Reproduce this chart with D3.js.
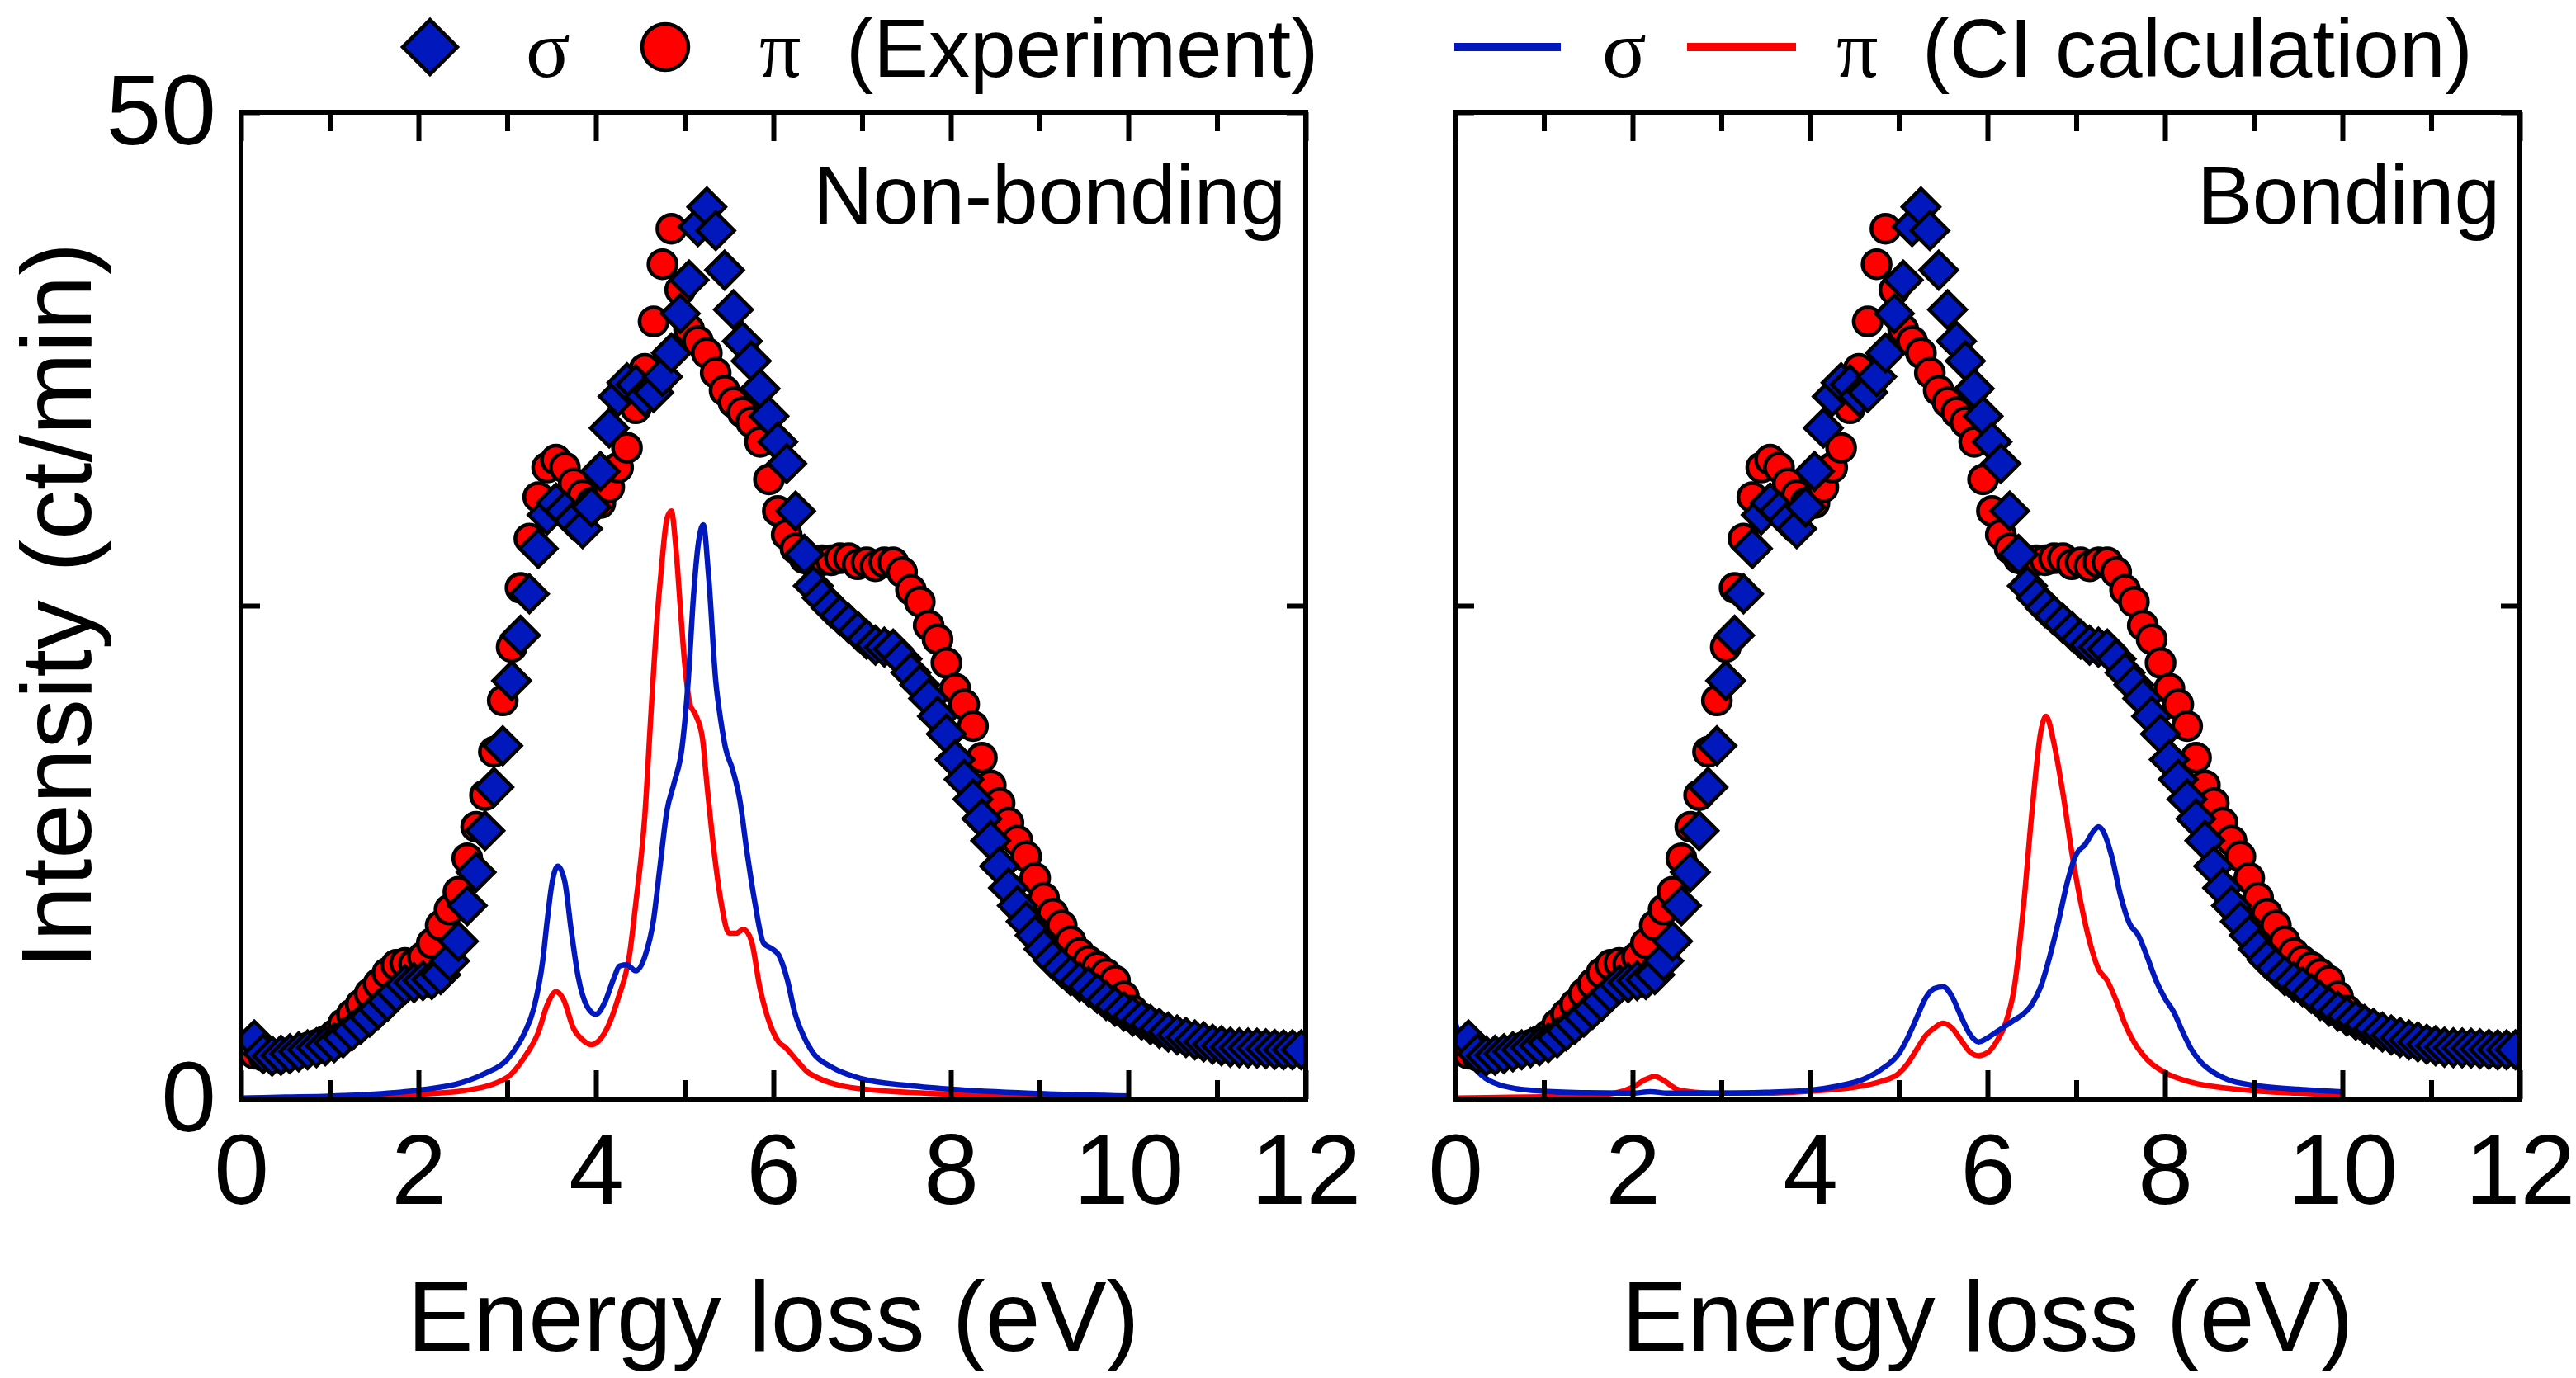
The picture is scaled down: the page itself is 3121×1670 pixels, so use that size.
<!DOCTYPE html>
<html>
<head>
<meta charset="utf-8">
<script src="https://cdn.jsdelivr.net/npm/d3@7"></script>
<style>
    body { margin: 0; background: #fff; }
    text { font-family: "Liberation Sans", Arial, sans-serif; fill: #000; }
</style>
</head>
<body>
<div id="chart"></div>
<script>
// experiment: energy loss (eV) and intensity (ct/min), same energies for both polarisations
const expEnergy = [
    0.15, 0.25, 0.35, 0.45, 0.55, 0.65, 0.75, 0.85, 0.95,
    1.05, 1.15, 1.25, 1.35, 1.45, 1.55, 1.65, 1.75, 1.85, 1.95,
    2.05, 2.15, 2.25, 2.35, 2.45, 2.55, 2.65, 2.75, 2.85, 2.95,
    3.05, 3.15, 3.25, 3.35, 3.45, 3.55, 3.65, 3.75, 3.85, 3.95,
    4.05, 4.15, 4.25, 4.35, 4.45, 4.55, 4.65, 4.75, 4.85, 4.95,
    5.05, 5.15, 5.25, 5.35, 5.45, 5.55, 5.65, 5.75, 5.85, 5.95,
    6.05, 6.15, 6.25, 6.35, 6.45, 6.55, 6.65, 6.75, 6.85, 6.95,
    7.05, 7.15, 7.25, 7.35, 7.45, 7.55, 7.65, 7.75, 7.85, 7.95,
    8.05, 8.15, 8.25, 8.35, 8.45, 8.55, 8.65, 8.75, 8.85, 8.95,
    9.05, 9.15, 9.25, 9.35, 9.45, 9.55, 9.65, 9.75, 9.85, 9.95,
    10.05, 10.15, 10.25, 10.35, 10.45, 10.55, 10.65, 10.75, 10.85, 10.95,
    11.05, 11.15, 11.25, 11.35, 11.45, 11.55, 11.65, 11.75, 11.85, 11.95
];
const expSigma = [
    3.0, 2.3, 2.18, 2.22, 2.3, 2.4, 2.5, 2.6, 2.7,
    2.85, 3.1, 3.45, 3.8, 4.15, 4.55, 4.95, 5.4, 5.8, 5.9,
    6.0, 6.05, 6.3, 7.0, 8.0, 9.8, 11.5, 13.6, 15.8, 17.9,
    21.2, 23.5, 25.6, 27.9, 29.6, 30.2, 29.8, 29.3, 28.9, 30.0,
    31.8, 34.0, 35.6, 36.3, 36.2, 35.6, 35.8, 36.6, 37.8, 39.8,
    41.5, 44.2, 45.2, 44.0, 42.0, 40.0, 38.4, 37.4, 36.0, 34.6,
    33.3, 32.2, 29.8, 27.6, 26.0, 25.4, 24.9, 24.5, 24.1, 23.7,
    23.3, 23.0, 22.9, 22.8, 22.3, 21.6, 21.0, 20.3, 19.4, 18.5,
    17.2, 16.2, 15.2, 14.2, 13.1, 11.8, 10.7, 9.8, 9.0, 8.3,
    7.6, 7.05, 6.65, 6.25, 5.95, 5.7, 5.35, 5.0, 4.7, 4.45,
    4.2, 4.0, 3.78, 3.58, 3.4, 3.25, 3.12, 3.0, 2.9, 2.78,
    2.7, 2.63, 2.6, 2.59, 2.58, 2.55, 2.52, 2.5, 2.5, 2.5
];
const expPi = [
    2.3, 2.2, 2.2, 2.25, 2.35, 2.45, 2.6, 2.75, 2.95,
    3.25, 3.8, 4.3, 4.8, 5.35, 5.85, 6.4, 6.8, 6.9, 6.85,
    7.2, 7.9, 8.8, 9.6, 10.5, 12.2, 13.8, 15.4, 17.6, 20.2,
    22.9, 25.9, 28.4, 30.5, 32.0, 32.4, 32.0, 31.2, 30.6, 30.2,
    30.2, 31.0, 32.0, 33.0, 35.0, 37.0, 39.4, 42.3, 44.1, 41.0,
    39.0, 38.4, 37.8, 36.8, 35.9, 35.3, 34.8, 34.3, 33.3, 31.4,
    29.8, 28.6, 27.9, 27.4, 27.2, 27.3, 27.3, 27.4, 27.4, 27.1,
    27.2, 27.0, 27.2, 27.2, 26.7, 25.8, 25.2, 24.0, 23.3, 22.1,
    20.8, 20.0, 18.9, 17.3, 15.9, 15.0, 14.0, 13.1, 12.3, 11.2,
    10.2, 9.4, 8.8, 8.0, 7.4, 7.0, 6.7, 6.35, 6.0, 5.2,
    4.5, 4.1, 3.8, 3.6, 3.4, 3.25, 3.1, 3.0, 2.88, 2.78,
    2.7, 2.63, 2.58, 2.56, 2.55, 2.52, 2.5, 2.48, 2.48, 2.48
];

// CI calculation, [energy, intensity]
const nbCalcSigma = [
    [0, 0.05], [0.5, 0.1], [1, 0.15], [1.5, 0.25], [2, 0.45], [2.5, 0.85], [2.75, 1.3],
    [3, 2.0], [3.1, 2.6], [3.2, 3.4], [3.3, 4.6], [3.4, 7.0], [3.45, 9.0], [3.5, 10.8],
    [3.57, 11.8], [3.65, 11.0], [3.72, 8.6], [3.8, 6.2], [3.9, 4.7], [4.0, 4.3], [4.1, 4.9],
    [4.2, 6.1], [4.27, 6.75], [4.35, 6.8], [4.45, 6.5], [4.55, 7.2], [4.65, 9.1], [4.72, 11.7],
    [4.8, 14.6], [4.88, 16.0], [4.97, 17.8], [5.04, 21.2], [5.1, 25.5], [5.15, 28.0],
    [5.21, 29.1], [5.27, 26.5], [5.35, 21.2], [5.41, 19.1], [5.46, 17.8], [5.54, 16.7],
    [5.62, 15.2], [5.7, 12.6], [5.79, 10.0], [5.89, 7.9], [5.99, 7.6], [6.06, 7.3],
    [6.16, 6.0], [6.24, 4.4], [6.34, 3.2], [6.45, 2.33], [6.65, 1.64], [7, 1.03],
    [7.5, 0.7], [8, 0.5], [9, 0.28], [10, 0.16]
];
const nbCalcPi = [
    [0, 0.03], [0.5, 0.05], [1, 0.08], [1.5, 0.12], [2, 0.25], [2.5, 0.42], [3, 1.1],
    [3.2, 2.16], [3.35, 3.37], [3.45, 4.76], [3.55, 5.45], [3.63, 5.1], [3.75, 3.55],
    [3.85, 3.0], [3.95, 2.76], [4.1, 3.37], [4.25, 5.1], [4.38, 7.36], [4.45, 9.95],
    [4.55, 14.3], [4.62, 19.5], [4.68, 23.8], [4.74, 27.0], [4.8, 29.4], [4.85, 29.8],
    [4.9, 28.0], [4.95, 25.0], [5.0, 22.1], [5.06, 20.0], [5.12, 19.5], [5.2, 18.3],
    [5.25, 16.0], [5.33, 12.6], [5.41, 10.0], [5.5, 8.4], [5.58, 8.4], [5.66, 8.6],
    [5.75, 8.05], [5.85, 5.6], [5.97, 3.7], [6.06, 2.9], [6.14, 2.6], [6.26, 1.98],
    [6.41, 1.29], [7, 0.51], [8, 0.25], [9, 0.13], [10, 0.06]
];
const bCalcSigma = [
    [0, 3.9], [0.1, 2.6], [0.2, 1.7], [0.3, 1.2], [0.4, 0.9], [0.5, 0.72], [0.7, 0.52],
    [1, 0.4], [1.5, 0.32], [2, 0.3], [2.2, 0.38], [2.4, 0.3], [3, 0.3], [3.5, 0.34],
    [4, 0.45], [4.3, 0.65], [4.6, 1.0], [4.8, 1.5], [5.0, 2.3], [5.1, 3.1], [5.2, 4.1],
    [5.3, 5.1], [5.4, 5.6], [5.5, 5.7], [5.6, 5.2], [5.7, 4.2], [5.8, 3.3], [5.9, 2.9],
    [6.0, 3.1], [6.1, 3.4], [6.2, 3.7], [6.3, 4.0], [6.4, 4.3], [6.5, 4.8], [6.6, 5.7],
    [6.7, 7.2], [6.8, 9.0], [6.9, 11.0], [7.0, 12.4], [7.1, 12.9], [7.2, 13.6], [7.25, 13.8],
    [7.3, 13.6], [7.4, 12.3], [7.5, 10.3], [7.6, 8.9], [7.7, 8.3], [7.8, 7.2], [7.9, 6.0],
    [8.0, 5.1], [8.1, 4.4], [8.2, 3.4], [8.3, 2.5], [8.4, 1.9], [8.5, 1.5], [8.7, 1.0],
    [9, 0.7], [9.5, 0.5], [10, 0.37]
];
const bCalcPi = [
    [0, 0.05], [0.5, 0.08], [1, 0.12], [1.5, 0.18], [1.8, 0.3], [2.0, 0.6], [2.15, 1.0],
    [2.25, 1.15], [2.35, 0.95], [2.5, 0.5], [2.7, 0.35], [3, 0.3], [3.5, 0.3], [4, 0.4],
    [4.5, 0.6], [4.8, 0.9], [5.0, 1.3], [5.1, 1.8], [5.2, 2.5], [5.3, 3.2], [5.4, 3.6],
    [5.5, 3.85], [5.6, 3.6], [5.7, 3.0], [5.8, 2.4], [5.9, 2.2], [6.0, 2.35], [6.1, 2.9],
    [6.2, 3.8], [6.3, 5.6], [6.4, 9.5], [6.5, 14.5], [6.6, 18.6], [6.66, 19.4], [6.75, 18.0],
    [6.85, 15.5], [6.95, 12.5], [7.05, 10.0], [7.15, 8.0], [7.25, 6.6], [7.35, 6.0],
    [7.45, 5.0], [7.55, 3.8], [7.65, 2.9], [7.8, 2.0], [8.0, 1.35], [8.3, 0.85], [8.7, 0.55],
    [9, 0.42], [9.5, 0.3], [10, 0.2]
];

const xMajorTicks = [0, 2, 4, 6, 8, 10, 12];
const xMinorTicks = [1, 3, 5, 7, 9, 11];
const yTicks = [0, 25, 50];
const yTickLabels = { 0: '0', 50: '50' };
const panelLabels = ['Non-bonding', 'Bonding'];

const BLUE = '#0018bc';
const RED = '#ff0000';
const FONT = '"Liberation Sans", Arial, sans-serif';
const GREEK = '"Liberation Serif", "Times New Roman", serif';

const W = 3121, H = 1670;
const plotTop = 136, plotBottom = 1332;

const svg = d3.select('#chart').append('svg')
    .attr('width', W)
    .attr('height', H)
    .style('background', '#fff');

const diamond = d3.symbol().type(d3.symbolSquare);

const panels = [
    { left: 292, right: 1582, calcSigma: nbCalcSigma, calcPi: nbCalcPi, showY: true },
    { left: 1763, right: 3053, calcSigma: bCalcSigma, calcPi: bCalcPi, showY: false }
];

const expSigmaRows = expEnergy.map((e, i) => [e, expSigma[i]]);
const expPiRows = expEnergy.map((e, i) => [e, expPi[i]]);

panels.forEach((p, idx) => {
    const x = d3.scaleLinear().domain([0, 12]).range([p.left, p.right]);
    const y = d3.scaleLinear().domain([0, 50]).range([plotBottom, plotTop]);
    const g = svg.append('g').attr('class', 'panel-' + idx);

    g.append('defs').append('clipPath')
        .attr('id', 'clip' + idx)
        .append('rect')
        .attr('x', p.left).attr('y', plotTop)
        .attr('width', p.right - p.left).attr('height', plotBottom - plotTop);

    const plot = g.append('g').attr('clip-path', 'url(#clip' + idx + ')');

    // calculated spectra
    const lineGen = d3.line()
        .x(d => x(d[0]))
        .y(d => y(d[1]))
        .curve(d3.curveMonotoneX);

    plot.append('path')
        .attr('d', lineGen(p.calcPi))
        .attr('fill', 'none')
        .attr('stroke', RED)
        .attr('stroke-width', 6.5);
    plot.append('path')
        .attr('d', lineGen(p.calcSigma))
        .attr('fill', 'none')
        .attr('stroke', BLUE)
        .attr('stroke-width', 6.5);

    // experiment
    plot.selectAll('.pi')
        .data(expPiRows)
        .join('circle')
        .attr('class', 'pi')
        .attr('cx', d => x(d[0]))
        .attr('cy', d => y(d[1]))
        .attr('r', 17)
        .attr('fill', RED)
        .attr('stroke', '#000')
        .attr('stroke-width', 4.5);

    plot.selectAll('.sigma')
        .data(expSigmaRows)
        .join('path')
        .attr('class', 'sigma')
        .attr('d', diamond.size(1000))
        .attr('transform', d => 'translate(' + x(d[0]) + ',' + y(d[1]) + ') rotate(45)')
        .attr('fill', BLUE)
        .attr('stroke', '#000')
        .attr('stroke-width', 4.5);

    // frame
    g.append('rect')
        .attr('x', p.left).attr('y', plotTop)
        .attr('width', p.right - p.left).attr('height', plotBottom - plotTop)
        .attr('fill', 'none')
        .attr('stroke', '#000')
        .attr('stroke-width', 6);

    // ticks, pointing inwards
    const styleAxis = sel => {
        sel.select('.domain').remove();
        sel.selectAll('line').attr('stroke', '#000').attr('stroke-width', 6);
        sel.attr('font-family', FONT).attr('font-size', 120);
        sel.selectAll('text').attr('fill', '#000');
    };

    g.append('g')
        .attr('transform', 'translate(0,' + plotBottom + ')')
        .call(d3.axisBottom(x).tickValues(xMajorTicks).tickSizeInner(-35).tickSizeOuter(0)
            .tickPadding(42).tickFormat(d3.format('d')))
        .call(styleAxis);
    g.append('g')
        .attr('transform', 'translate(0,' + plotBottom + ')')
        .call(d3.axisBottom(x).tickValues(xMinorTicks).tickSizeInner(-23).tickSizeOuter(0).tickFormat(''))
        .call(styleAxis);
    g.append('g')
        .attr('transform', 'translate(0,' + plotTop + ')')
        .call(d3.axisTop(x).tickValues(xMajorTicks).tickSizeInner(-35).tickSizeOuter(0).tickFormat(''))
        .call(styleAxis);
    g.append('g')
        .attr('transform', 'translate(0,' + plotTop + ')')
        .call(d3.axisTop(x).tickValues(xMinorTicks).tickSizeInner(-23).tickSizeOuter(0).tickFormat(''))
        .call(styleAxis);
    g.append('g')
        .attr('transform', 'translate(' + p.left + ',0)')
        .call(d3.axisLeft(y).tickValues(yTicks).tickSizeInner(-23).tickSizeOuter(0).tickPadding(30)
            .tickFormat(d => p.showY ? (yTickLabels[d] || '') : ''))
        .call(styleAxis);
    g.append('g')
        .attr('transform', 'translate(' + p.right + ',0)')
        .call(d3.axisRight(y).tickValues(yTicks).tickSizeInner(-23).tickSizeOuter(0).tickFormat(''))
        .call(styleAxis);

    // labels
    g.append('text')
        .attr('x', p.right - 24)
        .attr('y', 271)
        .attr('text-anchor', 'end')
        .attr('font-size', 100)
        .text(panelLabels[idx]);

    g.append('text')
        .attr('x', (p.left + p.right) / 2)
        .attr('y', 1637)
        .attr('text-anchor', 'middle')
        .attr('font-size', 120)
        .text('Energy loss (eV)');

    if (p.showY) {
        g.append('text')
            .attr('transform', 'translate(110,' + (plotTop + plotBottom) / 2 + ') rotate(-90)')
            .attr('text-anchor', 'middle')
            .attr('font-size', 120)
            .text('Intensity (ct/min)');
    }
});

// legend
const legend = svg.append('g').attr('class', 'legend');
const legendY = 57, legendBase = 93;

legend.append('path')
    .attr('d', d3.symbol().type(d3.symbolSquare).size(2178)())
    .attr('transform', 'translate(521,' + legendY + ') rotate(45)')
    .attr('fill', BLUE).attr('stroke', '#000').attr('stroke-width', 4.5);
legend.append('circle')
    .attr('cx', 806).attr('cy', legendY).attr('r', 28)
    .attr('fill', RED).attr('stroke', '#000').attr('stroke-width', 4.5);
legend.append('line')
    .attr('x1', 1762).attr('x2', 1891).attr('y1', legendY).attr('y2', legendY)
    .attr('stroke', BLUE).attr('stroke-width', 10);
legend.append('line')
    .attr('x1', 2044).attr('x2', 2176).attr('y1', legendY).attr('y2', legendY)
    .attr('stroke', RED).attr('stroke-width', 10);

const legendTexts = [
    { x: 637, t: '\u03c3', greek: true },
    { x: 920, t: '\u03c0', greek: true },
    { x: 1025, t: '(Experiment)', greek: false },
    { x: 1941, t: '\u03c3', greek: true },
    { x: 2225, t: '\u03c0', greek: true },
    { x: 2329, t: '(CI calculation)', greek: false }
];
legend.selectAll('.ltext')
    .data(legendTexts)
    .join('text')
    .attr('class', 'ltext')
    .attr('x', d => d.x)
    .attr('y', legendBase)
    .attr('font-size', 100)
    .style('font-family', d => d.greek ? GREEK : FONT)
    .text(d => d.t);
</script>
</body>
</html>
